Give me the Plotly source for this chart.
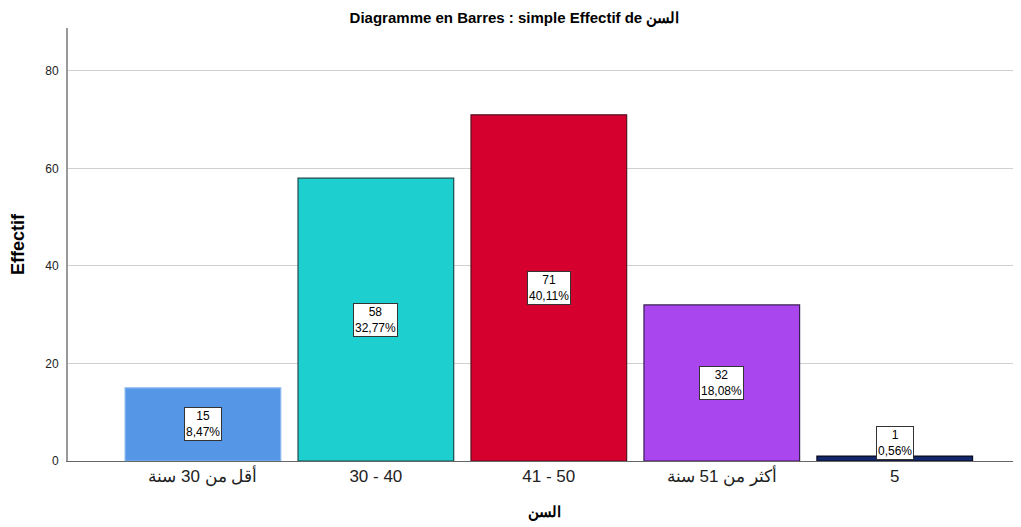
import plotly.graph_objects as go

categories = ["أقل من 30 سنة", "30 - 40", "41 - 50", "أكثر من 51 سنة", "5"]
counts = [15, 58, 71, 32, 1]
percents = ["8,47%", "32,77%", "40,11%", "18,08%", "0,56%"]
colors = ["#5597e6", "#1dcfcf", "#d6002f", "#a946ee", "#12286b"]
outlines = ["#8ab8ee", "#1a4a48", "#5a1020", "#3a2050", "#0a0a20"]

x = list(range(len(categories)))

fig = go.Figure()
fig.add_trace(go.Bar(
    x=x, y=counts, width=0.9,
    marker=dict(color=colors, line=dict(color=outlines, width=1.2)),
    hoverinfo="skip",
))

for i, (c, p) in enumerate(zip(counts, percents)):
    fig.add_annotation(
        x=i, y=max(c / 2, 3.7), text=f"{c}<br>{p}", showarrow=False,
        font=dict(family="Arial, Liberation Sans", size=12, color="#000"),
        bgcolor="white", bordercolor="#333", borderwidth=1, borderpad=1,
        align="center",
    )

# page body has an 8px margin; compensate so the figure fills the window
fig.update_layout(
    width=1013, height=519,
    margin=dict(l=60, r=0, t=20, b=66),
    paper_bgcolor="white", plot_bgcolor="white",
    showlegend=False,
    title=dict(text="<b>Diagramme en Barres : simple Effectif de السن</b>",
               x=0.5, xanchor="center", y=0.982, yanchor="middle",
               font=dict(family="Arial, Liberation Sans", size=15, color="#000")),
    font=dict(family="Arial, Liberation Sans", color="#000"),
)
fig.update_xaxes(
    tickmode="array", tickvals=x, ticktext=categories,
    range=[-0.78, 4.73], showgrid=False, zeroline=False,
    showline=True, linecolor="#666", linewidth=1, ticks="",
    tickfont=dict(size=17, color="#222"), automargin=False,
    title=dict(text="<b>السن</b>", font=dict(size=15, color="#000"), standoff=20),
)
fig.update_yaxes(
    range=[0, 88.8], tickvals=[0, 20, 40, 60, 80], showgrid=True,
    gridcolor="#d0d0d0", gridwidth=1, zeroline=False,
    showline=True, linecolor="#999", linewidth=2, ticks="",
    tickfont=dict(size=12, color="#222"), ticklabelstandoff=5, automargin=False,
    title=dict(text="<b>Effectif</b>", font=dict(size=18, color="#000"), standoff=16),
)

fig.write_html("out.html")
